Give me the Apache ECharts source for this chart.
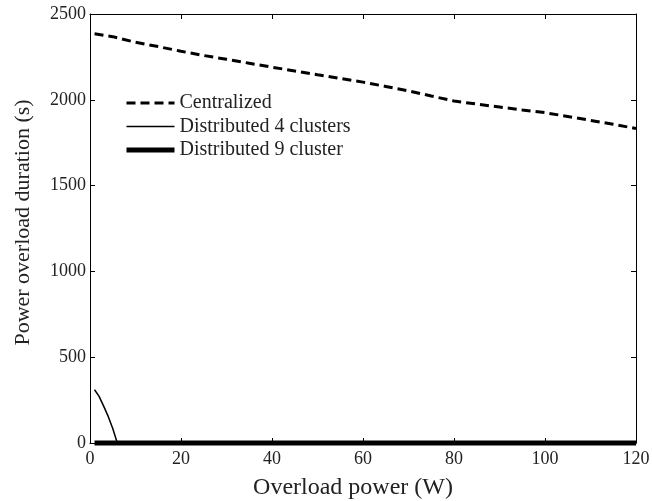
<!DOCTYPE html>
<html>
<head>
<meta charset="utf-8">
<script src="https://cdn.jsdelivr.net/npm/echarts@6/dist/echarts.min.js"></script>
<style>
html,body{margin:0;padding:0;background:#fff;}
#chart{width:652px;height:501px;}
</style>
</head>
<body>
<div id="chart"></div>
<script>
const centralizedX = [1,5,10,15,20,25,30,35,40,45,50,55,60,65,70,75,80,85,90,95,100,105,110,115,120];
const centralizedY = [2385,2368,2335,2310,2283,2258,2236,2213,2190,2168,2146,2125,2103,2078,2052,2022,1993,1975,1958,1941,1925,1903,1880,1857,1833];
const dist4X = [1,2,3,4,5,6,120];
const dist4Y = [310,272,215,155,85,0,0];
const dist9X = [1,120];
const dist9Y = [0,0];
const xTicks = [0,20,40,60,80,100,120];
const yTicks = [0,500,1000,1500,2000,2500];
const seriesNames = ['Centralized','Distributed 4 clusters','Distributed 9 cluster'];

const pairs = (xs, ys) => xs.map((x, i) => [x, ys[i]]);
const FONT = '"Liberation Serif", "Times New Roman", serif';
const TXT = '#222';
const styles = [
  {color: '#000', width: 3, type: [9, 5]},
  {color: '#000', width: 1.5, type: 'solid'},
  {color: '#000', width: 5, type: 'solid'}
];

const chart = echarts.init(document.getElementById('chart'), null, {renderer: 'canvas'});
const axisCommon = {
  type: 'value',
  axisLine: {show: true, onZero: false, lineStyle: {color: '#000', width: 1}},
  axisTick: {show: true, inside: true, length: 5, lineStyle: {color: '#000', width: 1}},
  splitLine: {show: false}
};
chart.setOption({
  animation: false,
  backgroundColor: '#fff',
  grid: {left: 90, right: 16, top: 14, bottom: 58, containLabel: false, outerBoundsMode: 'none'},
  legend: {
    orient: 'vertical', left: 124, top: 93, padding: 0,
    itemWidth: 48, itemHeight: 10, itemGap: 3.5,
    selectedMode: false,
    data: seriesNames.map((n, i) => ({
      name: n,
      itemStyle: {opacity: 0},
      lineStyle: {width: styles[i].width, type: styles[i].type, color: '#000', opacity: 1}
    })),
    textStyle: {fontFamily: FONT, fontSize: 20, color: TXT, lineHeight: 20}
  },
  xAxis: [
    Object.assign({}, axisCommon, {
      position: 'bottom', min: xTicks[0], max: xTicks[xTicks.length-1], interval: 20,
      axisLabel: {show: true, margin: 7, fontFamily: FONT, fontSize: 18, color: TXT, formatter: v => String(v)},
      name: 'Overload power (W)', nameLocation: 'middle', nameGap: 33,
      nameTextStyle: {fontFamily: FONT, fontSize: 24, color: TXT, padding: [0, 20, 0, 0]}
    }),
    Object.assign({}, axisCommon, {
      position: 'top', min: xTicks[0], max: xTicks[xTicks.length-1], interval: 20,
      axisLabel: {show: false}
    })
  ],
  yAxis: [
    Object.assign({}, axisCommon, {
      position: 'left', min: yTicks[0], max: yTicks[yTicks.length-1], interval: 500,
      axisLabel: {show: true, margin: 4, fontFamily: FONT, fontSize: 18, color: TXT, formatter: v => String(v)},
      name: 'Power overload duration (s)', nameLocation: 'middle', nameGap: 56,
      nameTextStyle: {fontFamily: FONT, fontSize: 22, color: TXT, padding: [0, 0, 0, 12]}
    }),
    Object.assign({}, axisCommon, {
      position: 'right', min: yTicks[0], max: yTicks[yTicks.length-1], interval: 500,
      axisLabel: {show: false}
    })
  ],
  series: [
    {
      name: seriesNames[0], type: 'line', xAxisIndex: 0, yAxisIndex: 0,
      data: pairs(centralizedX, centralizedY), symbol: 'none', clip: false,
      lineStyle: styles[0], itemStyle: {color: '#000'}
    },
    {
      name: seriesNames[1], type: 'line', xAxisIndex: 0, yAxisIndex: 0,
      data: pairs(dist4X, dist4Y), symbol: 'none', clip: false,
      lineStyle: styles[1], itemStyle: {color: '#000'}
    },
    {
      name: seriesNames[2], type: 'line', xAxisIndex: 0, yAxisIndex: 0,
      data: pairs(dist9X, dist9Y), symbol: 'none', clip: false,
      lineStyle: styles[2], itemStyle: {color: '#000'}
    }
  ]
});
</script>
</body>
</html>
